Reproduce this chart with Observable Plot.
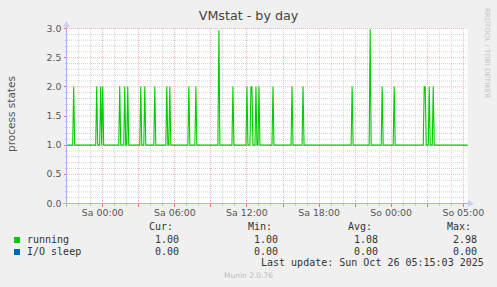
<!DOCTYPE html>
<html><head><meta charset="utf-8">
<script src="https://cdn.jsdelivr.net/npm/d3@7"></script>
<script src="https://cdn.jsdelivr.net/npm/@observablehq/plot@0.6"></script>
<style>
body{margin:0;background:#f0f0f0;}
#wrap{position:relative;width:497px;height:287px;overflow:hidden;background:#f0f0f0;font-family:"DejaVu Sans",sans-serif;}
#wrap svg{position:absolute;left:0;top:0;background:transparent;}
.t{position:absolute;white-space:pre;}
.mono{font-family:"DejaVu Sans Mono",monospace;font-size:10px;line-height:10px;color:#333;}
</style></head><body><div id="wrap"></div>
<script>
// ---- data ----
const title = "VMstat - by day";
const yLabel = "process states";
const xTickHours = [0, 6, 12, 18, 24, 30];
const xTickLabels = ["Sa 00:00", "Sa 06:00", "Sa 12:00", "Sa 18:00", "So 00:00", "So 05:00"];
const yTicks = [0, 0.5, 1, 1.5, 2, 2.5, 3];
const xDomain = [-2.93, 30.35]; // hours since Sa 00:00
const baseline = 1.0;
const spikeHours = [-2.41, -0.50, -0.13, 0.0, 1.43, 1.86, 2.08, 3.14, 3.49, 4.33, 5.36, 5.57, 7.15, 7.74,
  9.65, 10.82, 11.98, 12.37, 12.45, 12.79, 12.98, 14.14, 15.72, 16.70, 20.75, 22.21, 23.27, 24.21,
  26.72, 26.80, 27.20, 27.51];
const spikeValues = [2, 2, 2, 2, 2, 2, 2, 2, 2, 2, 2, 2, 2, 2,
  2.97, 2, 2, 2, 2, 2, 2, 2, 2, 2, 2, 2.98, 2, 2,
  2, 2, 2, 2];
const seriesNames = ["running", "I/O sleep"];
const seriesColors = ["#00cc00", "#0066b3"];
const colHeaders = ["Cur:", "Min:", "Avg:", "Max:"];
const curVals = ["1.00", "0.00"];
const minVals = ["1.00", "0.00"];
const avgVals = ["1.08", "0.00"];
const maxVals = ["2.98", "0.00"];
const lastUpdate = "Last update: Sun Oct 26 05:15:03 2025";
const footer = "Munin 2.0.76";
const watermark = "RRDTOOL / TOBI OETIKER";

// ---- build series (5-minute samples) ----
const step = 1 / 12;
const spikeMap = new Map();
spikeHours.forEach((h, k) => spikeMap.set(Math.round(h / step), spikeValues[k]));
const running = d3.range(Math.ceil(xDomain[0] / step), Math.floor(xDomain[1] / step) + 1)
  .map(i => ({h: i * step, v: spikeMap.has(i) ? spikeMap.get(i) : baseline}));

// grid positions
const majorX = d3.range(0, 31, 3);
const minorX = d3.range(-2, 31).filter(h => h % 3 !== 0);
const majorY = yTicks;
const minorY = d3.range(1, 30).map(d => d / 10).filter(d => Math.round(d * 10) % 5 !== 0);

function decor(index, {x, y}, values, dim) {
  const g = d3.create("svg:g");
  const L = dim.marginLeft, R = dim.width - dim.marginRight, T = dim.marginTop, B = dim.height - dim.marginBottom;
  const ax = "#a9b4ec";
  for (const h of minorX) g.append("line").attr("x1", Math.round(x(h)) + 0.5).attr("x2", Math.round(x(h)) + 0.5)
    .attr("y1", B + 0.5).attr("y2", B + 2.5).attr("stroke", "#bbb");
  for (const h of majorX) g.append("line").attr("x1", Math.round(x(h)) + 0.5).attr("x2", Math.round(x(h)) + 0.5)
    .attr("y1", B + 0.5).attr("y2", B + 4).attr("stroke", "#f07070");
  for (const v of minorY) g.append("line").attr("x1", L - 2).attr("x2", L).attr("y1", Math.round(y(v)) + 0.5)
    .attr("y2", Math.round(y(v)) + 0.5).attr("stroke", "#bbb");
  for (const v of majorY) g.append("line").attr("x1", L - 3).attr("x2", L).attr("y1", Math.round(y(v)) + 0.5)
    .attr("y2", Math.round(y(v)) + 0.5).attr("stroke", "#f07070");
  g.append("line").attr("x1", L - 4).attr("x2", R + 3).attr("y1", B + 0.5).attr("y2", B + 0.5).attr("stroke", ax);
  g.append("line").attr("x1", L - 0.5).attr("x2", L - 0.5).attr("y1", B + 4).attr("y2", T - 3).attr("stroke", ax);
  g.append("path").attr("d", `M${R + 7},${B + 0.5}L${R + 1},${B - 3}L${R + 1},${B + 4}Z`).attr("fill", "#c8d0f4");
  g.append("path").attr("d", `M${L - 0.5},${T - 7}L${L - 4},${T - 1}L${L + 3},${T - 1}Z`).attr("fill", "#c8d0f4");
  return g.node();
}

const chart = Plot.plot({
  width: 497, height: 287,
  marginLeft: 67, marginRight: 30, marginTop: 28, marginBottom: 84,
  style: {background: "transparent", fontFamily: "DejaVu Sans, sans-serif", overflow: "visible"},
  x: {domain: xDomain},
  y: {domain: [0, 3]},
  marks: [
    Plot.frame({fill: "white", stroke: null}),
    Plot.ruleY(minorY, {stroke: "#d4d4d4", strokeDasharray: "1,1"}),
    Plot.ruleX(minorX.map(h => Math.round((h - xDomain[0]) * 12.02) / 12.02 + xDomain[0]), {stroke: "#d4d4d4", strokeDasharray: "1,1"}),
    Plot.ruleY(majorY.filter(v => v > 0), {stroke: "#f2b6b6", strokeDasharray: "1,1"}),
    Plot.ruleX(majorX.map(h => Math.round((h - xDomain[0]) * 12.02) / 12.02 + xDomain[0]), {stroke: "#f2b6b6", strokeDasharray: "1,1"}),
    Plot.line(running, {x: "h", y: "v", stroke: seriesColors[0], strokeWidth: 1.1}),
    decor,
    Plot.axisX({ticks: xTickHours, tickSize: 0, tickPadding: 6, fontSize: 9.4, fill: "#555",
      tickFormat: d => xTickLabels[xTickHours.indexOf(d)], label: null}),
    Plot.axisY({ticks: yTicks, tickSize: 0, tickPadding: 6, fontSize: 9.4, fill: "#555",
      tickFormat: d3.format(".1f"), label: null})
  ]
});
const wrap = document.getElementById("wrap");
wrap.appendChild(chart);

function addText(txt, css, cls) {
  const d = document.createElement("div");
  d.className = "t" + (cls ? " " + cls : "");
  d.textContent = txt;
  Object.assign(d.style, css);
  wrap.appendChild(d);
  return d;
}
addText(title, {left: "0px", width: "497px", textAlign: "center", top: "9px", fontSize: "12.7px", lineHeight: "14px", color: "#444"});
addText(yLabel, {left: "11px", top: "114px", fontSize: "10.5px", lineHeight: "12px", color: "#555",
  transform: "translate(-50%,-50%) rotate(-90deg)"});
addText(watermark, {left: "487px", top: "53px", fontSize: "7px", lineHeight: "8px", color: "#c4c4c4",
  transform: "translate(-50%,-50%) rotate(90deg)"});
const colLeft = [149, 248, 348, 447];
const valLeft = [155, 254, 354, 453];
colHeaders.forEach((h, i) => addText(h, {left: colLeft[i] + "px", top: "222px"}, "mono"));
const cols = [curVals, minVals, avgVals, maxVals];
seriesNames.forEach((name, r) => {
  const top = 235 + r * 12;
  const sq = document.createElement("div");
  Object.assign(sq.style, {position: "absolute", left: "14px", top: (top + 2) + "px", width: "6px", height: "6px", background: seriesColors[r]});
  wrap.appendChild(sq);
  addText(name, {left: "27px", top: top + "px"}, "mono");
  cols.forEach((c, i) => addText(c[r], {left: valLeft[i] + "px", top: top + "px"}, "mono"));
});
addText(lastUpdate, {left: "261px", top: "258px"}, "mono");
addText(footer, {left: "0px", width: "497px", textAlign: "center", top: "271px", fontSize: "7.5px", lineHeight: "9px", color: "#bbb"});
</script></body></html>
